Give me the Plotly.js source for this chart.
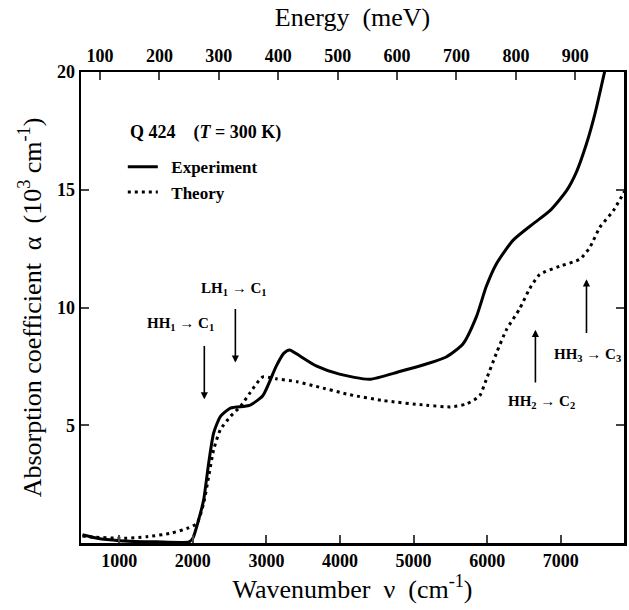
<!DOCTYPE html>
<html>
<head>
<meta charset="utf-8">
<script src="https://cdn.plot.ly/plotly-3.0.1.min.js"></script>
<style>html,body{margin:0;padding:0;background:#fff;}#chart{width:629px;height:610px;}</style>
</head>
<body>
<div id="chart"></div>
<script>
// Wavenumber (cm^-1) and absorption coefficient (10^3 cm^-1)
const expNu    = [500, 700, 1000, 1500, 1950, 2000, 2080, 2147, 2215, 2283, 2374, 2510, 2691, 2769, 2950, 3132, 3235, 3313, 3450, 3676, 3993, 4401, 4810, 5173, 5444, 5671, 5853, 5989, 6125, 6351, 6623, 6850, 7077, 7213, 7350, 7463, 7610];
const expAlpha = [0.35, 0.2, 0.1, 0.05, 0.05, 0.2, 1.0, 1.83, 3.39, 4.67, 5.37, 5.73, 5.8, 5.84, 6.25, 7.5, 8.05, 8.2, 7.95, 7.52, 7.17, 6.95, 7.28, 7.6, 7.9, 8.45, 9.6, 10.9, 11.85, 12.85, 13.55, 14.1, 14.95, 15.75, 16.95, 18.2, 20.2];

const theoryNu    = [500, 560, 1060, 1377, 1694, 1921, 2057, 2147, 2215, 2283, 2374, 2510, 2646, 2782, 2950, 3132, 3417, 3676, 4129, 4583, 5173, 5500, 5717, 5898, 5989, 6125, 6261, 6442, 6578, 6714, 6986, 7259, 7395, 7531, 7712, 7871];
const theoryAlpha = [0.3, 0.27, 0.2, 0.27, 0.41, 0.62, 0.84, 1.69, 2.82, 3.96, 4.81, 5.37, 5.8, 6.4, 7.05, 6.97, 6.85, 6.65, 6.3, 6.05, 5.85, 5.78, 5.9, 6.25, 6.95, 8.05, 9.05, 9.95, 10.8, 11.4, 11.75, 12.05, 12.55, 13.4, 14.1, 14.95];

const xTicks = [1000, 2000, 3000, 4000, 5000, 6000, 7000];
const yTicks = [5, 10, 15, 20];
const energyTicks = [100, 200, 300, 400, 500, 600, 700, 800, 900];
const meVPerWavenumber = 0.12398;

// Transition markers: label, wavenumber, arrow tail / head, label position
const transLabels = ["HH<sub>1</sub> → C<sub>1</sub>", "LH<sub>1</sub> → C<sub>1</sub>", "HH<sub>2</sub> → C<sub>2</sub>", "HH<sub>3</sub> → C<sub>3</sub>"];
const transNu     = [2156, 2578, 6656, 7350];
const arrowTail   = [8.43, 10.0, 6.75, 8.85];
const arrowHead   = [6.1, 7.66, 9.05, 11.2];
const labelNu     = [1830, 2565, 6741, 7367];
const labelAlpha  = [9.28, 10.77, 6.0, 8.0];

const serif = "Liberation Serif, DejaVu Serif, serif";

const traces = [
  {x: expNu, y: expAlpha, type: 'scatter', mode: 'lines', name: '\u00a0\u00a0Experiment',
   line: {color: '#000', width: 3, shape: 'spline', smoothing: 0.6}, hoverinfo: 'skip'},
  {x: theoryNu, y: theoryAlpha, type: 'scatter', mode: 'lines', name: '\u00a0\u00a0Theory',
   line: {color: '#000', width: 3, dash: '3px,4px', shape: 'spline', smoothing: 0.6}, hoverinfo: 'skip'},
  // same theory data on the energy scale (invisible) so the top and right axes are drawn
  {x: theoryNu.map(v => v * meVPerWavenumber), y: theoryAlpha, xaxis: 'x2', yaxis: 'y2',
   type: 'scatter', mode: 'lines', line: {color: 'rgba(0,0,0,0)', width: 0},
   showlegend: false, hoverinfo: 'skip'}
];

const annotations = [];
for (let i = 0; i < transLabels.length; i++) {
  annotations.push({x: transNu[i], y: arrowHead[i], ax: transNu[i], ay: arrowTail[i],
    xref: 'x', yref: 'y', axref: 'x', ayref: 'y', text: '', showarrow: true,
    arrowhead: 2, arrowsize: 0.9, arrowwidth: 1.6, arrowcolor: '#000'});
  annotations.push({x: labelNu[i], y: labelAlpha[i], xref: 'x', yref: 'y', text: transLabels[i],
    showarrow: false, font: {family: serif, size: 15, color: '#000', weight: 'bold'}});
}
annotations.push({x: 0.087, y: 0.872, xref: 'paper', yref: 'paper', xanchor: 'left', yanchor: 'middle',
  text: 'Q 424    (<i>T</i> = 300 K)', showarrow: false,
  font: {family: serif, size: 18, color: '#000', weight: 'bold'}});

const layout = {
  width: 629, height: 610,
  margin: {l: 81, r: 5, t: 72, b: 67},
  paper_bgcolor: '#fff', plot_bgcolor: '#fff',
  font: {family: serif, color: '#000'},
  showlegend: true,
  legend: {x: 0.077, y: 0.836, xanchor: 'left', yanchor: 'top',
    bgcolor: 'rgba(0,0,0,0)', itemwidth: 30, tracegroupgap: 0,
    font: {family: serif, size: 17, weight: 'bold', color: '#000'}},
  xaxis: {range: [480, 7860], tickvals: xTicks, ticks: 'inside', ticklen: 8, tickwidth: 2,
    showline: true, linewidth: 2.5, linecolor: '#000', showgrid: false, zeroline: false,
    mirror: false,
    tickfont: {family: serif, size: 18, weight: 'bold'},
    title: {text: 'Wavenumber  ν  (cm<sup>-1</sup>)', font: {family: serif, size: 26}, standoff: 6}},
  xaxis2: {overlaying: 'x', side: 'top', anchor: 'y', range: [68, 982], tickvals: energyTicks,
    ticks: 'inside', ticklen: 8, tickwidth: 2,
    showline: true, linewidth: 2.5, linecolor: '#000', showgrid: false, zeroline: false,
    tickfont: {family: serif, size: 18, weight: 'bold'},
    title: {text: 'Energy  (meV)', font: {family: serif, size: 26}, standoff: 12}},
  yaxis: {range: [0, 20], tickvals: yTicks, ticks: 'inside', ticklen: 8, tickwidth: 2,
    showline: true, linewidth: 2.5, linecolor: '#000', showgrid: false, zeroline: false,
    tickfont: {family: serif, size: 18, weight: 'bold'},
    title: {text: 'Absorption coefficient  α  (10<sup>3</sup> cm<sup>-1</sup>)', font: {family: serif, size: 26}, standoff: 8}},
  yaxis2: {overlaying: 'y', side: 'right', anchor: 'x', range: [0, 20], tickvals: yTicks,
    ticks: 'inside', ticklen: 8, tickwidth: 2, showticklabels: false,
    showline: true, linewidth: 2.5, linecolor: '#000', showgrid: false, zeroline: false},
  annotations: annotations
};

Plotly.newPlot('chart', traces, layout, {displayModeBar: false, staticPlot: true});
</script>
</body>
</html>
